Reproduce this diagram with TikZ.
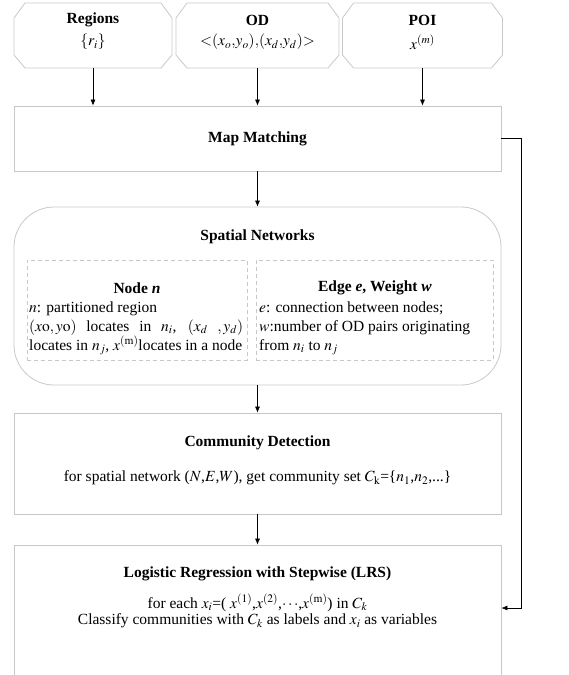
\documentclass[tikz,border=0pt]{standalone}
\usepackage{mathptmx}
\usepackage{fontspec}
\setmainfont{Liberation Serif}
\usetikzlibrary{arrows.meta}
\definecolor{boxgray}{RGB}{200,200,200}
\tikzset{
  frame/.style={draw=boxgray, line width=0.8pt, minimum width=487pt, inner sep=0pt},
  plain/.style={inner sep=0pt, outer sep=0pt},
  title/.style={font=\fontsize{15.5}{19}\selectfont\bfseries, inner sep=0pt},
  body/.style={font=\fontsize{15.5}{19}\selectfont, inner sep=0pt, align=left},
  arr/.style={-{Latex[length=6pt,width=5pt]}, line width=0.6pt},
  dashbox/.style={draw=boxgray, dash pattern=on 4pt off 3pt, line width=0.8pt}
}
\begin{document}
\begin{tikzpicture}[x=1pt,y=-1pt]
            \useasboundingbox (0,0) rectangle (569,675);
            % input octagons
            \node[plain, minimum width=158pt, minimum height=65pt] (reg) at (93,35.5) {};
            \node[plain, minimum width=163pt, minimum height=65pt] (od) at (257.5,35.5) {};
            \node[plain, minimum width=160pt, minimum height=65pt] (poi) at (422.5,35.5) {};
            \foreach \n in {reg,od,poi}
                \draw[boxgray, line width=0.8pt] ([xshift=11pt]\n.north west) -- ([xshift=-11pt]\n.north east)
                    -- ([yshift=-15pt]\n.north east) -- ([yshift=13pt]\n.south east)
                    -- ([xshift=-11pt]\n.south east) -- ([xshift=11pt]\n.south west)
                    -- ([yshift=13pt]\n.south west) -- ([yshift=-15pt]\n.north west) -- cycle;
            \node[title] (regT) at (93,20) {Regions};
            \node[body] (regV) at (93,42) {$\{r_i\}$};
            \node[title] (odT) at (257.5,20) {OD};
            \node[body] (odV) at (257.5,42) {$\mathord{<}(x_o{,}y_o){,}(x_d{,}y_d)\mathord{>}$};
            \node[title] (poiT) at (422.5,20) {POI};
            \node[body] (poiV) at (422.5,42) {$x^{(m)}$};

            % main steps
            \node[frame, minimum height=65pt] (mm) at (257.5,138.5) {};
            \node[title] (mmT) at (257.5,138.5) {Map Matching};

            \node[frame, minimum height=178pt, rounded corners=40pt] (sn) at (257.5,296) {};
            \node[title] (snT) at (257.5,237) {Spatial Networks};
            \node[dashbox, minimum width=220pt, minimum height=100pt, inner sep=0pt] (nodebox) at (137,310) {};
            \node[dashbox, minimum width=237pt, minimum height=100pt, inner sep=0pt] (edgebox) at (374.5,310) {};
            \node[title] (nodeT) at (137,288) {Node \textit{n}};
            \node[title] (edgeT) at (375,288) {Edge \textit{e}, Weight \textit{w}};
            \node[body, anchor=west] (nodeV) at (29,328)
                {$n$: partitioned region\\
                 \makebox[214pt][s]{$(x\mathrm{o},y\mathrm{o})$ locates in $n_i$, $(x_d\ ,y_d)$}\\
                 locates in $n_j$, $x^{(\mathrm{m})}$locates in a node};
            \node[body, anchor=west] (edgeV) at (259,328)
                {$e$: connection between nodes;\\
                 $w$:number of OD pairs originating\\
                 from $n_i$ to $n_j$};

            \node[frame, minimum height=101pt] (cd) at (257.5,463.5) {};
            \node[title] (cdT) at (257.5,443) {Community Detection};
            \node[body] (cdV) at (257.5,478)
                {for spatial network ($N$,$E$,$W$), get community set $C_{\mathrm{k}}$=\{$n_1$,$n_2$,...\}};

            \node[frame, minimum height=175pt] (lrs) at (257.5,632.5) {};
            \node[title] (lrsT) at (257.5,574) {Logistic Regression with Stepwise (LRS)};
            \node[body, align=center, font=\fontsize{15.5}{16.5}\selectfont] (lrsV) at (257.5,611)
                {for each $x_i$=( $x^{(1)}$,$x^{(2)}$,$\cdots$,$x^{(\mathrm{m})}$) in $C_k$\\
                 Classify communities with $C_k$ as labels and $x_i$ as variables};

            % connectors
            \draw[arr] (reg.south) -- (reg.south |- mm.north);
            \draw[arr] (od.south) -- (od.south |- mm.north);
            \draw[arr] (poi.south) -- (poi.south |- mm.north);
            \draw[arr] (mm.south) -- (sn.north);
            \draw[arr] (sn.south) -- (cd.north);
            \draw[arr] (cd.south) -- (lrs.north);
            \coordinate (fb) at (521,608);
            \draw[arr] (mm.east) -| (fb) -- (fb -| lrs.east);
\end{tikzpicture}
\end{document}
